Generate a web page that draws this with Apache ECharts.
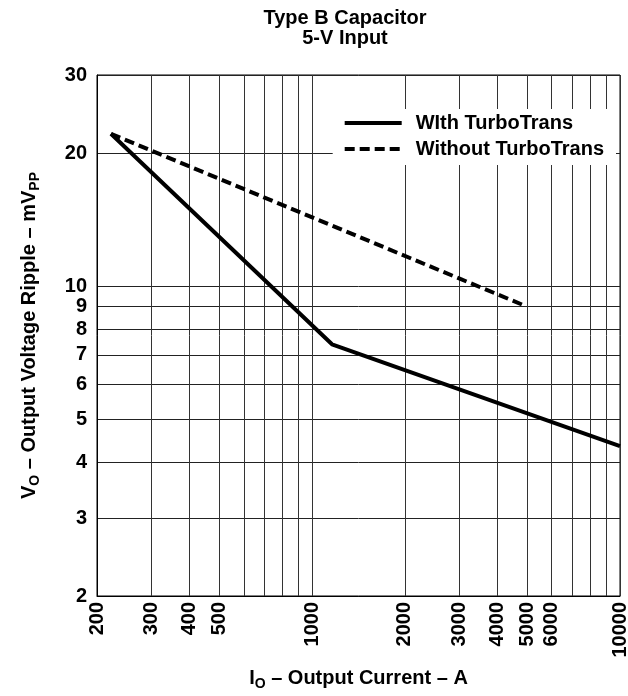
<!DOCTYPE html>
<html><head><meta charset="utf-8">
<script src="https://cdn.jsdelivr.net/npm/echarts@6/dist/echarts.min.js"></script>
<style>html,body{margin:0;padding:0;background:#fff}#c{width:628px;height:696px}</style>
</head><body><div id="c"></div>
<script>
// ---- data ----
const seriesNames = ['WIth TurboTrans', 'Without TurboTrans'];
const withX = [222, 1160, 10000];
const withY = [22.1, 7.4, 4.36];
const withoutX = [222, 4800];
const withoutY = [22.1, 9.1];
const xGridValues = [200, 300, 400, 500, 600, 700, 800, 900, 1000, 2000, 3000, 4000, 5000, 6000, 7000, 8000, 9000, 10000];
const xLabelValues = [200, 300, 400, 500, 1000, 2000, 3000, 4000, 5000, 6000, 10000];
const yGridValues = [2, 3, 4, 5, 6, 7, 8, 9, 10, 20, 30];
const yLabelValues = [2, 3, 4, 5, 6, 7, 8, 9, 10, 20, 30];
const titleLines = ['Type B Capacitor', '5-V Input'];

const FONT = '"Liberation Sans", Arial, Helvetica, sans-serif';
const chart = echarts.init(document.getElementById('c'), null, {renderer: 'canvas'});
const zip = (xs, ys) => xs.map((x, i) => [x, ys[i]]);
const plain = v => String(Math.round(v));
const subRich = {
  sub: {fontSize: 14, fontWeight: 'bold', fontFamily: FONT, color: '#000', lineHeight: 14, padding: [12, 0, 0, 0]}
};
chart.setOption({
  animation: false,
  backgroundColor: '#fff',
  graphic: [{
    type: 'text', x: 345, y: 8, z: 10,
    style: {text: titleLines.join('\n'), align: 'center', fill: '#000',
      font: 'bold 20px ' + FONT, lineHeight: 20}
  }],
  grid: {left: 97, right: 8, top: 75, bottom: 100, show: true, borderColor: '#000', borderWidth: 1,
    containLabel: false, outerBoundsMode: 'none'},
  legend: {
    data: seriesNames, orient: 'vertical', right: 12, top: 109,
    itemWidth: 57, itemHeight: 20, itemGap: 6,
    backgroundColor: '#fff', padding: [4, 12, 6, 10],
    itemStyle: {opacity: 0, borderWidth: 0},
    lineStyle: {width: 4},
    textStyle: {fontFamily: FONT, fontWeight: 'bold', fontSize: 20, color: '#000', padding: [0, 0, 0, 9]}
  },
  xAxis: {
    type: 'log', logBase: 10, min: 200, max: 10000,
    name: 'I{sub|O} – Output Current – A', nameLocation: 'middle', nameGap: 68,
    nameTextStyle: {fontFamily: FONT, fontWeight: 'bold', fontSize: 20, color: '#000', lineHeight: 20, rich: subRich},
    axisLine: {show: true, lineStyle: {color: '#000', width: 1}},
    axisTick: {show: false, customValues: xGridValues},
    axisLabel: {customValues: xLabelValues, formatter: plain, rotate: 90, margin: 6, fontFamily: FONT, fontWeight: 'bold',
      fontSize: 20, color: '#000', hideOverlap: false, showMinLabel: true, showMaxLabel: true},
    splitLine: {show: true, lineStyle: {color: '#333', width: 1}},
    minorSplitLine: {show: false}
  },
  yAxis: {
    type: 'log', logBase: 10, min: 2, max: 30,
    name: 'V{sub|O} – Output Voltage Ripple – mV{sub|PP}', nameLocation: 'middle', nameGap: 58,
    nameTextStyle: {fontFamily: FONT, fontWeight: 'bold', fontSize: 20, color: '#000', lineHeight: 20, rich: subRich},
    axisLine: {show: true, lineStyle: {color: '#000', width: 1}},
    axisTick: {show: false, customValues: yGridValues},
    axisLabel: {customValues: yLabelValues, formatter: plain, margin: 10, fontFamily: FONT, fontWeight: 'bold',
      fontSize: 20, color: '#000', hideOverlap: false, showMinLabel: true, showMaxLabel: true},
    splitLine: {show: true, lineStyle: {color: '#222', width: 1}}
  },
  series: [
    {name: seriesNames[0], type: 'line', data: zip(withX, withY), symbol: 'none',
      lineStyle: {color: '#000', width: 4, type: 'solid'}, itemStyle: {color: '#000'}, z: 3},
    {name: seriesNames[1], type: 'line', data: zip(withoutX, withoutY), symbol: 'none',
      lineStyle: {color: '#000', width: 4, type: [10, 5]}, itemStyle: {color: '#000'}, z: 3}
  ]
});
</script></body></html>
